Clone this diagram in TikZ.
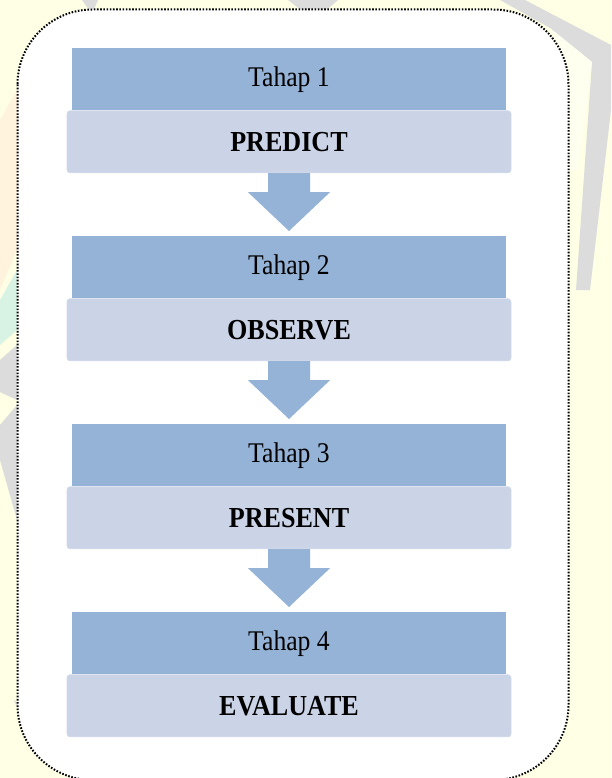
\documentclass[tikz,border=0pt]{standalone}
\usepackage{fontspec}
\setmainfont{Liberation Serif}[FakeStretch=0.9]
\usetikzlibrary{calc}
\definecolor{darkbox}{HTML}{95B3D7}
\definecolor{lightbox}{HTML}{CBD4E6}
\definecolor{lightedge}{HTML}{D2DAEA}
\definecolor{wmyellow}{HTML}{FFFFE6}
\definecolor{wmgray}{HTML}{DCDCDC}
\definecolor{wmpeach}{HTML}{FFF3DE}
\definecolor{wmteal}{HTML}{D8F2E4}
\tikzset{
  x=1pt, y=-1pt,
  headbox/.style={fill=darkbox, draw=none, minimum width=434pt, minimum height=62pt, inner sep=0pt,
    font=\fontsize{28.5}{30}\selectfont},
  namebox/.style={fill=lightbox, draw=lightedge, line width=0.8pt, rounded corners=3pt,
    minimum width=444pt, minimum height=62pt, inner sep=0pt,
    font=\fontsize{29}{30}\selectfont\bfseries},
  flowarrow/.style={fill=darkbox, draw=none},
  frame/.style={draw=black, line width=2pt, dash pattern=on 1.6pt off 1.6pt, rounded corners=75pt, fill=white}
}
\begin{document}
\begin{tikzpicture}
\useasboundingbox (0,0) rectangle (611,778);
% watermark background
\fill[wmyellow] (0,0) rectangle (611,778);
\fill[wmgray] (82,0) -- (98,0) -- (92,14) -- cycle;
\fill[wmgray] (288,0) -- (338,0) -- (322,14) -- (306,14) -- cycle;
\fill[wmgray] (500,0) -- (525,0) -- (611,45) -- (611,110) -- (590,290) -- (576,290) -- (592,62) -- (550,28) -- cycle;
\fill[wmyellow!60!white] (550,28) -- (592,62) -- (578,170) -- (569,170) -- (569,70) -- cycle;
\fill[wmpeach] (0,120) -- (17,90) -- (17,250) -- (0,290) -- cycle;
\fill[wmteal] (0,300) -- (17,270) -- (17,330) -- (0,345) -- cycle;
\fill[wmgray] (0,360) -- (17,345) -- (17,400) -- (0,392) -- cycle;
\fill[wmgray] (0,425) -- (17,405) -- (17,520) -- (0,460) -- cycle;
\fill[wmgray] (14,700) -- (30,712) -- (28,735) -- cycle;
% frame
\draw[frame] (17.5,9.5) rectangle (568.5,780);
% steps
\foreach \i/\name in {1/PREDICT,2/OBSERVE,3/PRESENT,4/EVALUATE}{
  \pgfmathsetmacro{\yy}{48+(\i-1)*188}
  \node[headbox, anchor=north] (t\i) at (289,\yy) {Tahap \i};
  \node[namebox, anchor=north] (l\i) at (t\i.south) {\name};
}
% arrows
\foreach \i/\j in {1/2,2/3,3/4}{
  \fill[flowarrow] ($(l\i.south)+(-21,0)$) -- ($(l\i.south)+(21,0)$) -- ($(l\i.south)+(21,19)$)
    -- ($(l\i.south)+(41,19)$) -- ($(t\j.north)+(0,-5)$) -- ($(l\i.south)+(-41,19)$)
    -- ($(l\i.south)+(-21,19)$) -- cycle;
}
\end{tikzpicture}
\end{document}
